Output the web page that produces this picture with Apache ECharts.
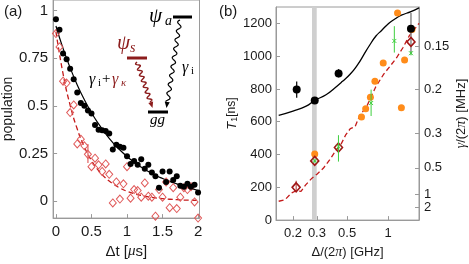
<!DOCTYPE html>
<html><head><meta charset="utf-8">
<script src="https://cdn.jsdelivr.net/npm/echarts@6/dist/echarts.min.js"></script>
<style>html,body{margin:0;padding:0;background:#fff}#c{width:469px;height:264px}</style>
</head><body><div id="c"></div>
<script>
// ---------- panel (a) data ----------
const tA = [0,0.05,0.1,0.15,0.2,0.25,0.3,0.35,0.4,0.45,0.5,0.55,0.6,0.65,0.7,0.75,0.8,0.85,0.9,0.95,1.0,
            1.05,1.1,1.15,1.2,1.25,1.3,1.35,1.4,1.45,1.5,1.55,1.6,1.65,1.7,1.75,1.8,1.85,1.9,1.95,2.0];
const popGround = [0.955,0.90,0.775,0.745,0.695,0.64,0.57,0.515,0.50,0.475,0.46,0.40,0.375,0.372,0.368,0.355,0.27,0.296,0.285,0.28,0.235,
                   0.195,0.21,0.19,0.22,0.17,0.19,0.15,0.13,0.07,0.155,0.10,0.155,0.11,0.13,0.08,0.075,0.09,0.075,0.085,0.045];
const popSym = [0.88,0.81,0.63,0.62,0.465,0.505,0.30,0.325,0.29,0.245,0.18,0.225,0.19,0.155,0.195,0.14,-0.01,0.10,0.01,0.09,0.18,
                0.015,0.06,0.055,0.02,0.095,0.025,0.02,-0.08,0.06,0.02,0.10,-0.035,0.07,-0.04,0.02,0.07,0.06,0.075,-0.005,-0.09];
const fitT = [0,0.1,0.2,0.3,0.4,0.5,0.6,0.7,0.8,0.9,1.0,1.1,1.2,1.3,1.4,1.5,1.6,1.7,1.8,1.9,2.0];
const fitGround = [0.92,0.802,0.700,0.610,0.532,0.464,0.405,0.353,0.307,0.268,0.234,0.204,0.178,0.155,0.135,0.118,0.103,0.090,0.078,0.066,0.055];
const fitSym = [0.89,0.669,0.503,0.378,0.284,0.213,0.160,0.120,0.091,0.068,0.051,0.038,0.029,0.022,0.016,0.012,0.009,0.007,0.005,0.004,0.003];
const errSymT = [0.45], errSymLo = [0.20], errSymHi = [0.30];
const ticksA_x = [0,0.5,1,1.5,2];
const ticksA_y = [0,0.25,0.5,0.75,1];

// ---------- panel (b) data ----------
const ticksDet = [0.2,0.3,0.5,1];
const ticksT1 = [0,200,400,600,800,1000,1200];
const ticksRate = [0.15,0.2,0.3,0.5,1,2];
const bandDet = [0.276,0.299];
const curveDet = [0.157,0.2,0.25,0.289,0.35,0.404,0.46,0.528,0.6,0.656,0.73,0.815,0.9,1.01,1.13,1.254,1.475,1.69];
const curveT1  = [639,665,695,730,765,805,845,891,950,1002,1065,1123,1158,1200,1228,1250,1272,1295];
const dashDet = [0.157,0.175,0.195,0.211,0.229,0.248,0.276,0.300,0.334,0.372,0.415,0.448,0.487,0.528,0.572,0.62,0.694,0.75,0.81,0.93,1.04,1.16,1.29,1.43,1.69];
const dashT1  = [115,125,165,179,175,215,256,280,316,367,427,457,518,558,569,639,690,750,811,891,941,992,1053,1123,1200];
const orangeDet = [0.289,0.638,0.685,0.742,0.801,0.922,1.175,1.254,1.324,1.50];
const orangeT1  = [403,629,679,750,847,958,1264,685,976,1163];
const blackDet = [0.213,0.289,0.433,1.475];
const blackT1  = [796,730,895,1167];
const blackLo  = [746,722,871,1012];
const blackHi  = [845,738,921,1264];
const diaDet = [0.211,0.289,0.432,1.475];
const diaT1  = [200,361,443,1087];
const diaErrDet = [0.211], diaErrLo = [172], diaErrHi = [240];
const greenDet = [0.289,0.432,0.751,1.113,1.475];
const greenT1  = [361,447,714,1093,1018];
const greenLo  = [352,357,635,1022,1005];
const greenHi  = [370,518,796,1183,1031];

const lg = Math.log10;
const AX = '#9a9a9a', TXT = '#1a1a1a', DRED = '#8c1c1c';
const SANS = '"Liberation Sans", Arial, sans-serif';
const SERIF = '"Liberation Serif", "DejaVu Serif", serif';

function errBars(xi, yi, xs, lo, hi, color, w, tx, z) {
  return {type:'custom', xAxisIndex:xi, yAxisIndex:yi, silent:true, z:z,
    data: xs.map((x,i)=>[tx(x), lo[i], hi[i]]),
    encode:{x:0, y:[1,2]},
    renderItem:(p,api)=>{
      const a = api.coord([api.value(0), api.value(1)]), b = api.coord([api.value(0), api.value(2)]);
      return {type:'line', shape:{x1:a[0],y1:a[1],x2:b[0],y2:b[1]}, style:{stroke:color, lineWidth:w}};
    }};
}
const id = v => v;

const chart = echarts.init(document.getElementById('c'), null, {renderer:'canvas'});

// wavy arrow helper for the inset diagram (decoration)
function wavy(x1,y1,x2,y2,period,amp){
  const dx=x2-x1, dy=y2-y1, L=Math.hypot(dx,dy), ux=dx/L, uy=dy/L, nx=-uy, ny=ux;
  const pts=[]; const n=Math.ceil(L*2);
  for(let i=0;i<=n;i++){const s=i/n*L; const off=amp*Math.sin(2*Math.PI*s/period); pts.push([x1+ux*s+nx*off, y1+uy*s+ny*off]);}
  return pts;
}
function head(x1,y1,x2,y2,len,wid){
  const dx=x2-x1, dy=y2-y1, L=Math.hypot(dx,dy), ux=dx/L, uy=dy/L, nx=-uy, ny=ux;
  const bx=x2-ux*len, by=y2-uy*len;
  return [[x2,y2],[bx+nx*wid,by+ny*wid],[bx-nx*wid,by-ny*wid]];
}
function txt(x,y,t,font,fill){return {type:'text', x:x, y:y, silent:true, style:{text:t, font:font, fill:fill||'#000'}};}

const graphic = [
  txt(4,4,'(a)','15px '+SANS,TXT),
  txt(219,4,'(b)','15px '+SANS,TXT),
  // inset levels
  txt(149,6,'ψ','italic 21px '+SERIF,'#000'),
  txt(165,14,'a','italic 14px '+SERIF,'#000'),
  {type:'line', silent:true, shape:{x1:173,y1:17,x2:192,y2:17}, style:{stroke:'#000', lineWidth:3}},
  txt(117,33,'ψ','italic 21px '+SERIF,DRED),
  txt(130,41,'s','italic 14px '+SERIF,DRED),
  {type:'line', silent:true, shape:{x1:127,y1:58,x2:147,y2:58}, style:{stroke:DRED, lineWidth:3}},
  {type:'line', silent:true, shape:{x1:148,y1:112,x2:168,y2:112}, style:{stroke:'#000', lineWidth:3}},
  txt(150,113,'gg','italic 15px '+SERIF,'#000'),
  {type:'polyline', silent:true, shape:{points:wavy(180,20,167.5,102,9,2)}, style:{stroke:'#000', lineWidth:1.2, fill:null}},
  {type:'polygon', silent:true, shape:{points:head(167.5,100,166.5,108,6,2.5)}, style:{fill:'#000'}},
  {type:'polyline', silent:true, shape:{points:wavy(137,62,150.5,102,6,2)}, style:{stroke:DRED, lineWidth:1.4, fill:null}},
  {type:'polygon', silent:true, shape:{points:head(150,100,152.5,108,6,2.5)}, style:{fill:DRED}},
  txt(182,60,'γ','italic 16px '+SERIF,'#000'),
  txt(191,66,'i','11px '+SERIF,'#000'),
  txt(89,72,'γ','italic 16px '+SERIF,'#000'),
  txt(98,78,'i','11px '+SERIF,'#000'),
  txt(102,72,'+','15px '+SERIF,'#000'),
  txt(112,72,'γ','italic 16px '+SERIF,DRED),
  txt(121,78,'κ','italic 11px '+SERIF,DRED),
];

const line0 = {show:true, onZero:false, lineStyle:{color:AX}};

const option = {
  animation:false,
  backgroundColor:'#fff',
  graphic: graphic,
  grid:[
    {left:47, top:-1, width:152.5, height:221, show:true, borderColor:AX, borderWidth:1, backgroundColor:'transparent'},
    {left:276, top:7, width:149, height:215, show:true, borderColor:AX, borderWidth:1, backgroundColor:'transparent'}
  ],
  xAxis:[
    {gridIndex:0, type:'value', min:-0.04, max:2.02,
     axisLine:line0, splitLine:{show:false},
     axisTick:{inside:true, length:4, lineStyle:{color:AX}, customValues:ticksA_x},
     axisLabel:{customValues:ticksA_x, color:TXT, fontSize:15, fontFamily:SANS, margin:6},
     name:'Δt [{m|μ}s]', nameLocation:'middle', nameGap:24,
     nameTextStyle:{color:TXT, fontSize:15, fontFamily:SANS, rich:{m:{fontSize:15, fontStyle:'italic', fontFamily:SERIF, color:TXT}}}},
    {gridIndex:1, type:'value', min:lg(0.15), max:lg(1.69),
     axisLine:line0, splitLine:{show:false},
     axisTick:{inside:true, length:4, lineStyle:{color:AX}, customValues:ticksDet.map(lg)},
     axisLabel:{customValues:ticksDet.map(lg), color:TXT, fontSize:13, fontFamily:SANS, margin:7,
       formatter:v=>String(Math.round(Math.pow(10,v)*100)/100)},
     name:'Δ/(2{m|π}) [GHz]', nameLocation:'middle', nameGap:24,
     nameTextStyle:{color:TXT, fontSize:13, fontFamily:SANS, rich:{m:{fontSize:14, fontStyle:'italic', fontFamily:SERIF, color:TXT}}}}
  ],
  yAxis:[
    {gridIndex:0, type:'value', min:-0.09, max:1.0565,
     axisLine:line0, splitLine:{show:false},
     axisTick:{inside:true, length:4, lineStyle:{color:AX}, customValues:ticksA_y},
     axisLabel:{customValues:ticksA_y, color:TXT, fontSize:15, fontFamily:SANS, margin:5, formatter:v=>String(v)},
     name:'population', nameLocation:'middle', nameGap:27,
     nameTextStyle:{color:TXT, fontSize:14, fontFamily:SANS}},
    {gridIndex:1, type:'value', min:0, max:1300,
     axisLine:line0, splitLine:{show:false},
     axisTick:{inside:true, length:4, lineStyle:{color:AX}, customValues:ticksT1},
     axisLabel:{customValues:ticksT1, color:TXT, fontSize:13, fontFamily:SANS, margin:4, formatter:v=>String(v)},
     name:'{t|T}{s|1}[ns]', nameLocation:'middle', nameGap:25,
     nameTextStyle:{color:TXT, fontSize:12, fontFamily:SANS,
       rich:{t:{fontSize:13, fontStyle:'italic', fontFamily:SANS, color:TXT}, s:{fontSize:9, color:TXT, padding:[5,0,0,0]}}}},
    {gridIndex:1, type:'value', min:0, max:1300, position:'right',
     axisLine:line0, splitLine:{show:false},
     axisTick:{inside:true, length:4, lineStyle:{color:AX}, customValues:ticksRate.map(f=>1000/(2*Math.PI*f))},
     axisLabel:{customValues:ticksRate.map(f=>1000/(2*Math.PI*f)), color:TXT, fontSize:13, fontFamily:SANS, margin:5,
       formatter:v=>String(Math.round(1000/(2*Math.PI*v)*100)/100)},
     name:'{g|γ}/(2{g|π}) [MHz]', nameLocation:'middle', nameGap:35, nameRotate:90,
     nameTextStyle:{color:TXT, fontSize:13, fontFamily:SANS, rich:{g:{fontSize:14, fontStyle:'italic', fontFamily:SERIF, color:TXT}}}}
  ],
  series:[
    // ----- panel (a)
    {type:'line', xAxisIndex:0, yAxisIndex:0, data:fitT.map((t,i)=>[t,fitGround[i]]), smooth:true, showSymbol:false, silent:true,
     lineStyle:{color:'#000', width:1.2}, z:2},
    {type:'line', xAxisIndex:0, yAxisIndex:0, data:fitT.map((t,i)=>[t,fitSym[i]]), smooth:true, showSymbol:false, silent:true,
     lineStyle:{color:'#c41a1a', width:1.3, type:[5,3]}, z:2},
    errBars(0,0,errSymT,errSymLo,errSymHi,'#e88080',1.5,id,3),
    {type:'scatter', xAxisIndex:0, yAxisIndex:0, data:tA.map((t,i)=>[t,popSym[i]]), symbol:'diamond', symbolSize:[7,8], silent:true,
     itemStyle:{color:'rgba(255,255,255,0)', borderColor:'#e05a5a', borderWidth:1, opacity:1}, z:3},
    {type:'scatter', xAxisIndex:0, yAxisIndex:0, data:tA.map((t,i)=>[t,popGround[i]]), symbolSize:6, silent:true,
     itemStyle:{color:'#000', opacity:1}, z:4},
    // ----- panel (b)
    {type:'custom', xAxisIndex:1, yAxisIndex:1, silent:true, z:1, data:[[lg(bandDet[0]), lg(bandDet[1])]],
     renderItem:(p,api)=>{
       const a=api.coord([api.value(0),1300]), b=api.coord([api.value(1),0]);
       return {type:'rect', shape:{x:a[0], y:a[1], width:b[0]-a[0], height:b[1]-a[1]}, style:{fill:'#cfcfcf'}};
     }},
    {type:'line', xAxisIndex:1, yAxisIndex:1, data:curveDet.map((d,i)=>[lg(d),curveT1[i]]), smooth:true, showSymbol:false, silent:true,
     lineStyle:{color:'#000', width:1.3}, z:2},
    {type:'line', xAxisIndex:1, yAxisIndex:1, data:dashDet.map((d,i)=>[lg(d),dashT1[i]]), showSymbol:false, silent:true,
     lineStyle:{color:'#c41a1a', width:1.3, type:[5,3]}, z:2},
    errBars(1,1,blackDet.slice(3),blackLo.slice(3),blackHi.slice(3),'#8a8a8a',1.5,lg,3),
    errBars(1,1,blackDet.slice(0,3),blackLo.slice(0,3),blackHi.slice(0,3),'#000',1.2,lg,3),
    errBars(1,1,diaErrDet,diaErrLo,diaErrHi,'#b03030',1,lg,3),
    {type:'scatter', xAxisIndex:1, yAxisIndex:1, data:orangeDet.map((d,i)=>[lg(d),orangeT1[i]]), symbolSize:7, silent:true,
     itemStyle:{color:'#ff8c1a', opacity:1}, z:4},
    {type:'scatter', xAxisIndex:1, yAxisIndex:1, data:blackDet.map((d,i)=>[lg(d),blackT1[i]]), symbolSize:8, silent:true,
     itemStyle:{color:'#000', opacity:1}, z:5},
    {type:'scatter', xAxisIndex:1, yAxisIndex:1, data:diaDet.map((d,i)=>[lg(d),diaT1[i]]), symbol:'diamond', symbolSize:[8,9], silent:true,
     itemStyle:{color:'rgba(255,255,255,0)', borderColor:'#a01515', borderWidth:1.6, opacity:1}, z:6},
    {type:'custom', xAxisIndex:1, yAxisIndex:1, silent:true, z:7,
     data: greenDet.map((d,i)=>[lg(d), greenT1[i], greenLo[i], greenHi[i]]),
     encode:{x:0, y:[1,2,3]},
     renderItem:(p,api)=>{
       const c=api.coord([api.value(0),api.value(1)]), a=api.coord([api.value(0),api.value(2)]), b=api.coord([api.value(0),api.value(3)]);
       const s=2, st={stroke:'#3fcf3f', lineWidth:1};
       return {type:'group', children:[
         {type:'line', shape:{x1:a[0],y1:a[1],x2:b[0],y2:b[1]}, style:st},
         {type:'line', shape:{x1:c[0]-s,y1:c[1]-s,x2:c[0]+s,y2:c[1]+s}, style:st},
         {type:'line', shape:{x1:c[0]-s,y1:c[1]+s,x2:c[0]+s,y2:c[1]-s}, style:st}
       ]};
     }}
  ]
};
chart.setOption(option);
</script></body></html>
